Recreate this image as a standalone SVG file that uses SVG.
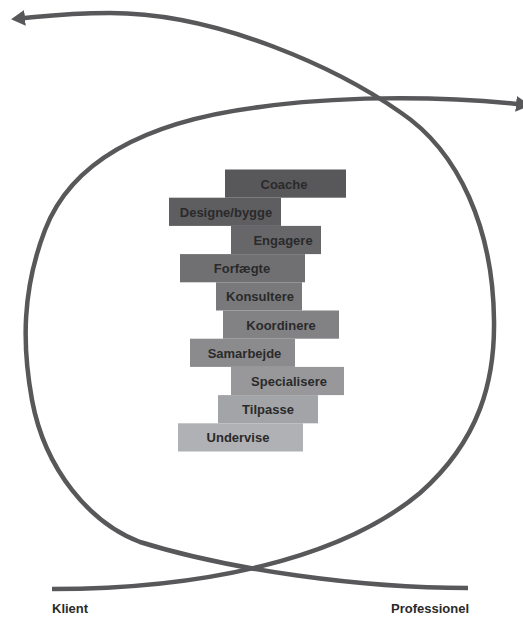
<svg xmlns="http://www.w3.org/2000/svg" width="523" height="619" viewBox="0 0 523 619">
  <defs>
    <marker id="arrow" viewBox="0 0 14 16" refX="1" refY="8" markerWidth="14" markerHeight="16" markerUnits="userSpaceOnUse" orient="auto">
      <path d="M0,0 L14,8 L0,16 z" fill="#58585a"/>
    </marker>
    <style>
      .curve { fill: none; stroke: #58585a; stroke-width: 4.5; }
      .lbl { font-family: "Liberation Sans", Arial, sans-serif; font-weight: bold; font-size: 13px; fill: #2a2a2a; text-anchor: middle; }
      .axis { font-family: "Liberation Sans", Arial, sans-serif; font-weight: bold; font-size: 13px; fill: #2a2a2a; }
    </style>
  </defs>
  <rect width="523" height="619" fill="#ffffff"/>

  <g id="connectors">
    <path id="curve-klient" class="curve" marker-end="url(#arrow)"
      d="M52,589 C200,589 340,560 420,493 C480,440 495,380 494,320 C493,230 460,152 400,112 C340,70 220,13 110,13 C70,13 45,16 24,18"/>
    <path id="curve-professionel" class="curve" marker-end="url(#arrow)"
      d="M468,588 C360,588 230,570 140,542 C90,523 45,470 32,400 C22,345 22,290 45,230 C70,165 140,122 260,107 C330,97 430,95 517,104"/>
  </g>

  <g id="node-coache"><rect x="225" y="169.5" width="121" height="28.2" fill="#58585a"/><text class="lbl" x="284" y="188.5">Coache</text></g>
  <g id="node-designe"><rect x="169" y="197.7" width="112" height="28.2" fill="#5e5e61"/><text class="lbl" x="226" y="216.7">Designe/bygge</text></g>
  <g id="node-engagere"><rect x="231" y="225.9" width="90" height="28.2" fill="#67676a"/><text class="lbl" x="283" y="244.9">Engagere</text></g>
  <g id="node-forfaegte"><rect x="180" y="254.1" width="125" height="28.2" fill="#707073"/><text class="lbl" x="242" y="273.1">Forfægte</text></g>
  <g id="node-konsultere"><rect x="216" y="282.3" width="86" height="28.2" fill="#79797c"/><text class="lbl" x="260" y="301.3">Konsultere</text></g>
  <g id="node-koordinere"><rect x="223" y="310.5" width="116" height="28.2" fill="#828285"/><text class="lbl" x="281" y="329.5">Koordinere</text></g>
  <g id="node-samarbejde"><rect x="190" y="338.7" width="105" height="28.2" fill="#8b8b8e"/><text class="lbl" x="244.5" y="357.7">Samarbejde</text></g>
  <g id="node-specialisere"><rect x="231" y="366.9" width="113" height="28.2" fill="#98989b"/><text class="lbl" x="289" y="385.9">Specialisere</text></g>
  <g id="node-tilpasse"><rect x="218" y="395.1" width="100" height="28.2" fill="#a3a4a7"/><text class="lbl" x="268" y="414.1">Tilpasse</text></g>
  <g id="node-undervise"><rect x="178" y="423.3" width="125" height="28.2" fill="#b0b1b4"/><text class="lbl" x="238" y="442.3">Undervise</text></g>

  <g id="labels">
    <text class="axis" x="52" y="613">Klient</text>
    <text class="axis" x="469" y="613" text-anchor="end">Professionel</text>
  </g>
</svg>
